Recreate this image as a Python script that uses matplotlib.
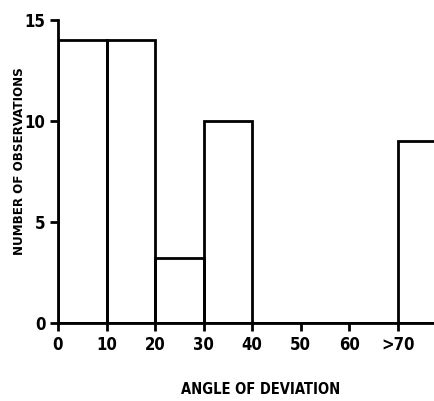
import matplotlib.pyplot as plt

# Histogram of deviation angles (bin left edges, widths, counts)
bin_left = [0, 10, 20, 30, 40, 50, 60, 70]
bin_width = [10, 10, 10, 10, 10, 10, 10, 10]
counts = [14, 14, 3.2, 10, 0, 0, 0, 9]

x_ticks = [0, 10, 20, 30, 40, 50, 60, 70]
x_labels = ["0", "10", "20", "30", "40", "50", "60", ">70"]
y_ticks = [0, 5, 10, 15]

font = {"family": "DejaVu Sans", "stretch": "condensed", "weight": "bold"}

fig = plt.figure(figsize=(4.35, 4.01), dpi=100)
ax = fig.add_axes([0.1333, 0.1945, 0.8667, 0.7555])

ax.bar(bin_left, counts, width=bin_width, align="edge",
       facecolor="none", edgecolor="black", linewidth=2, clip_on=True)

ax.set_xlim(0, 77.7)
ax.set_ylim(0, 15)

ax.spines["top"].set_visible(False)
ax.spines["right"].set_visible(False)
for s in ("left", "bottom"):
    ax.spines[s].set_linewidth(2)

ax.set_xticks(x_ticks)
ax.set_xticklabels(x_labels, fontsize=12, **font)
ax.set_yticks(y_ticks)
ax.set_yticklabels([str(v) for v in y_ticks], fontsize=12, **font)
ax.tick_params(direction="out", length=6, width=2, pad=3)

ax.set_xlabel("ANGLE OF DEVIATION", fontsize=10.5, **font)
ax.set_ylabel("NUMBER OF OBSERVATIONS", fontsize=9.5, **font)
ax.xaxis.set_label_coords(0.538, -0.195)
ax.yaxis.set_label_coords(-0.085, 0.535)

plt.savefig("out.png", dpi=100)
plt.close()
